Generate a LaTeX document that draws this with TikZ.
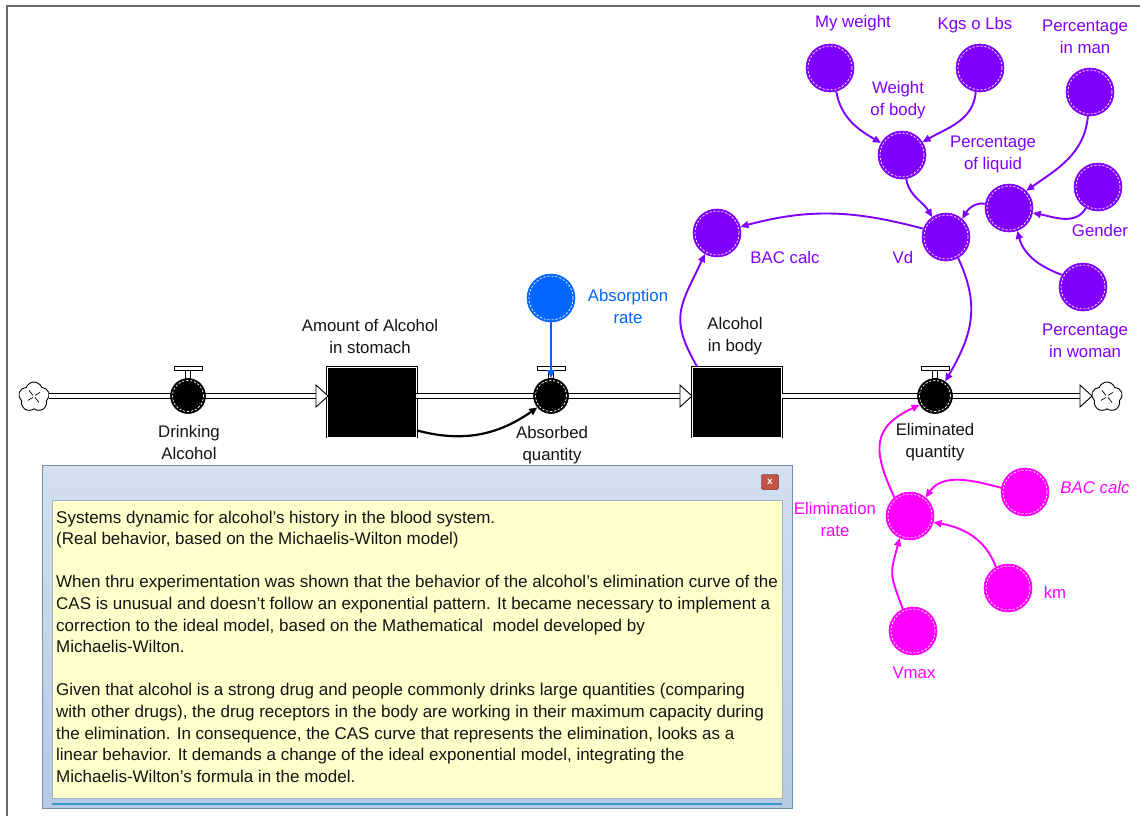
\documentclass[tikz,border=0pt]{standalone}
\usepackage{fontspec}
\setmainfont{Liberation Sans}
\usetikzlibrary{arrows.meta,shapes.symbols,calc}
\definecolor{vpur}{RGB}{128,0,255}
\definecolor{vmag}{RGB}{255,0,255}
\definecolor{vblue}{RGB}{0,102,255}
\definecolor{frameg}{RGB}{105,105,105}
\definecolor{winborder}{RGB}{120,140,170}
\definecolor{wintop}{RGB}{210,223,240}
\definecolor{winbot}{RGB}{182,202,228}
\definecolor{noteyel}{RGB}{255,255,204}
\definecolor{txt}{RGB}{20,20,20}
\definecolor{closered}{RGB}{196,84,70}
\definecolor{winline}{RGB}{60,150,200}
\tikzset{
  aux/.style={circle, minimum size=48pt, inner sep=0pt, fill=#1, draw=#1, line width=0.6pt,
    path picture={\draw[white, line width=0.7pt, dash pattern=on 2.2pt off 1.8pt] (path picture bounding box.center) circle (22pt);}},
  valve/.style={circle, minimum size=35pt, inner sep=0pt, fill=black, draw=black, line width=0.6pt,
    path picture={\draw[white, line width=0.7pt, dash pattern=on 2.2pt off 1.8pt] (path picture bounding box.center) circle (15.5pt);}},
  stock/.style={rectangle, minimum width=89pt, minimum height=70pt, inner sep=0pt, fill=black, draw=black, line width=0.8pt, double=white, double distance=0.9pt},
  pipe/.style={draw=black, line width=1.2pt, double=white, double distance=3.2pt},
  hollow/.style={draw=black, line width=0.9pt, fill=white},
  cloudnode/.style={cloud, cloud puffs=5, cloud puff arc=140, aspect=1, minimum width=31pt, minimum height=30pt, inner sep=0pt, draw=black, line width=0.9pt, fill=white,
    path picture={\draw[black, line width=0.7pt] ([shift={(-1pt,1pt)}]path picture bounding box.center) -- ++(-4pt,5pt);
      \draw[black, line width=0.7pt] ([shift={(1pt,-1pt)}]path picture bounding box.center) -- ++(4pt,-5pt);
      \draw[black, line width=0.7pt] ([shift={(1pt,1pt)}]path picture bounding box.center) -- ++(5pt,3pt);
      \draw[black, line width=0.7pt] ([shift={(-1pt,-1pt)}]path picture bounding box.center) -- ++(-5pt,-3pt);}},
  lbl/.style={font=\fontsize{16.8}{22}\selectfont, align=center, inner sep=0pt, text=txt},
  note/.style={font=\fontsize{17}{21.6}\selectfont, anchor=base west, inner sep=0pt, text=txt},
  conn/.style={line width=1.9pt, -{Triangle[length=8pt,width=7pt]}},
}
\newcommand{\valvehandle}[1]{%
  \draw[hollow, line width=0.8pt] ([xshift=-2.5pt]#1.north) rectangle ([xshift=2.5pt,yshift=8pt]#1.north);
  \draw[hollow, line width=0.8pt] ([xshift=-14pt,yshift=8pt]#1.north) rectangle ([xshift=14pt,yshift=12pt]#1.north);}
\newcommand{\hollowtip}[1]{%
  \draw[hollow] (#1) -- ($(#1)+(-12,11)$) -- ($(#1)+(-12,-11)$) -- cycle;}
\begin{document}
\begin{tikzpicture}[x=1pt,y=1pt]
\useasboundingbox (0,0) rectangle (1140,-816);
\fill[white] (0,0) rectangle (1140,-816);
% frame
\draw[frameg, line width=1.6pt] (7,-816) -- (7,-6) -- (1140,-6);

% stocks, valves, clouds
\node[cloudnode] (cL) at (34,-397) {};
\node[cloudnode] (cR) at (1107,-397) {};
\node[stock] (s1) at (372,-402) {};
\node[stock] (s2) at (737,-402) {};
\coordinate (pL) at (49,-396);
\coordinate (t1) at (328,-396);
\coordinate (t1b) at (416,-396);
\coordinate (t2) at (692,-396);
\coordinate (t2b) at (782,-396);
\coordinate (t3) at (1092,-396);

% pipes
\draw[pipe] (pL) -- ($(t1)+(-12,0)$);
\draw[pipe] (t1b) -- ($(t2)+(-12,0)$);
\draw[pipe] (t2b) -- ($(t3)+(-12,0)$);
\hollowtip{t1}
\hollowtip{t2}
\hollowtip{t3}

\node[valve] (dv) at (188,-396) {};
\node[valve] (av) at (551,-396) {};
\node[valve] (ev) at (935,-396) {};
\valvehandle{dv}
\valvehandle{av}
\valvehandle{ev}

% auxiliaries
\node[aux=vblue] (ar) at (551,-298) {};
\node[aux=vpur] (mw) at (830,-68) {};
\node[aux=vpur] (kg) at (980,-68) {};
\node[aux=vpur] (pm) at (1090,-92) {};
\node[aux=vpur] (wb) at (902,-155) {};
\node[aux=vpur] (pl) at (1009,-208) {};
\node[aux=vpur] (gd) at (1098,-187) {};
\node[aux=vpur] (vd) at (946,-237) {};
\node[aux=vpur] (bac) at (717,-233) {};
\node[aux=vpur] (pw) at (1083,-287) {};
\node[aux=vmag] (er) at (910,-516) {};
\node[aux=vmag] (bac2) at (1025,-492) {};
\node[aux=vmag] (km) at (1008,-588) {};
\node[aux=vmag] (vm) at (913,-631) {};

% connectors
\draw[conn, black, line width=2.2pt] ([yshift=7pt]s1.south east) to[out=-15, in=-145] (av.-140);
\draw[conn, vblue] (ar.south) -- (av.north);
\draw[conn, vpur] (mw.-75) to[out=-80, in=150] (wb.150);
\draw[conn, vpur] (kg.-100) to[out=-95, in=30] (wb.32);
\draw[conn, vpur] (wb.-80) to[out=-80, in=120] (vd.125);
\draw[conn, vpur] (pl.170) to[out=170, in=60] (vd.48);
\draw[conn, vpur] (pm.-95) to[out=-95, in=35] (pl.45);
\draw[conn, vpur] (gd.-120) to[out=-120, in=-10] (pl.-12);
\draw[conn, vpur] (pw.150) to[out=160, in=-75] (pl.-70);
\draw[conn, vpur] (vd.160) to[out=165, in=15] (bac.15);
\draw[conn, vpur] ([xshift=5pt]s2.north west) to[out=120, in=-115, looseness=1.3] (bac.-120);
\draw[conn, vpur] (vd.-60) to[out=-65, in=60, looseness=1.1] (ev.55);
\draw[conn, vmag] (bac2.170) to[out=165, in=55] (er.50);
\draw[conn, vmag] (km.120) to[out=110, in=-10] (er.-15);
\draw[conn, vmag] (vm.115) to[out=110, in=-105, looseness=1.4] (er.-115);
\draw[conn, vmag] (er.130) to[out=115, in=-155, looseness=1.4] (ev.-150);

% labels
\node[lbl] (ls1) at (370,-336) {Amount of Alcohol\\in stomach};
\node[lbl] (ldv) at (189,-442) {Drinking\\Alcohol};
\node[lbl] (lav) at (552,-445) {Absorbed\\quantity};
\node[lbl, text=vblue] (lar) at (628,-306) {Absorption\\rate};
\node[lbl] (ls2) at (735,-336) {Alcohol\\in body};
\node[lbl] (lev) at (935,-442) {Eliminated\\quantity};
\node[lbl, text=vpur] (lmw) at (853,-23) {My weight};
\node[lbl, text=vpur] (lkg) at (975,-25) {Kgs o Lbs};
\node[lbl, text=vpur] (lpm) at (1085,-37) {Percentage\\in man};
\node[lbl, text=vpur] (lwb) at (898,-100) {Weight\\of body};
\node[lbl, text=vpur] (lpl) at (993,-154) {Percentage\\of liquid};
\node[lbl, text=vpur] (lgd) at (1100,-230) {Gender};
\node[lbl, text=vpur] (lvd) at (903,-257) {Vd};
\node[lbl, text=vpur] (lbac) at (785,-257) {BAC calc};
\node[lbl, text=vpur] (lpw) at (1085,-341) {Percentage\\in woman};
\node[lbl, text=vmag] (ler) at (835,-519) {Elimination\\rate};
\node[lbl, text=vmag, font=\fontsize{16.8}{22}\selectfont\itshape] (lbac2) at (1095,-487) {BAC calc};
\node[lbl, text=vmag] (lkm) at (1055,-592) {km};
\node[lbl, text=vmag] (lvm) at (914,-673) {Vmax};

% note window
\draw[winborder, line width=1pt, top color=wintop, bottom color=winbot] (42,-465) rectangle (792,-808);
\draw[fill=noteyel, draw=winborder!70, line width=0.8pt] (52,-500) rectangle (782,-798);
\draw[winline, line width=1.5pt] (52,-804) -- (782,-804);
\node[draw=black!70!red, fill=closered, rounded corners=2pt, minimum width=17pt, minimum height=15pt, inner sep=0pt, text=white, font=\bfseries\fontsize{10}{10}\selectfont] (close) at (770,-482) {x};

\node[note] (n1) at (56,-523) {Systems dynamic for alcohol’s history in the blood system.};
\node[note] (n2) at (56,-544.6) {(Real behavior, based on the Michaelis-Wilton model)};
\node[note] (n3) at (56,-587.8) {When thru experimentation was shown that the behavior of the alcohol’s elimination curve of the};
\node[note] (n4) at (56,-609.4) {CAS is unusual and doesn’t follow an exponential pattern. It became necessary to implement a};
\node[note] (n5) at (56,-631) {correction to the ideal model, based on the Mathematical\ \ model developed by};
\node[note] (n6) at (56,-652.6) {Michaelis-Wilton.};
\node[note] (n7) at (56,-695.8) {Given that alcohol is a strong drug and people commonly drinks large quantities (comparing};
\node[note] (n8) at (56,-717.4) {with other drugs), the drug receptors in the body are working in their maximum capacity during};
\node[note] (n9) at (56,-739) {the elimination. In consequence, the CAS curve that represents the elimination, looks as a};
\node[note] (n10) at (56,-760.6) {linear behavior. It demands a change of the ideal exponential model, integrating the};
\node[note] (n11) at (56,-782.2) {Michaelis-Wilton’s formula in the model.};
\end{tikzpicture}
\end{document}
